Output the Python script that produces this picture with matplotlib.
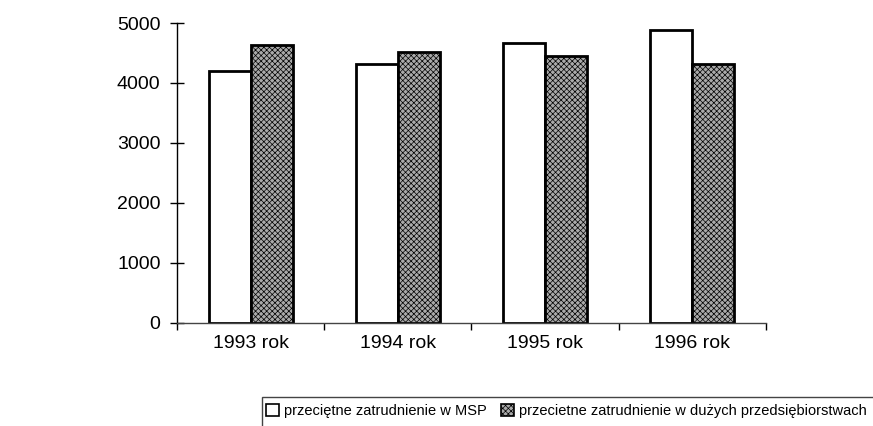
import numpy as np
import matplotlib.pyplot as plt
from matplotlib.patches import Patch, Rectangle

plt.rcParams['font.family'] = ['Liberation Sans', 'DejaVu Sans']
plt.rcParams['hatch.linewidth'] = 0.5
plt.rcParams['hatch.color'] = '#333333'

# data
years = ['1993 rok', '1994 rok', '1995 rok', '1996 rok']
msp = [4200, 4320, 4670, 4880]
duze = [4640, 4520, 4450, 4320]
yticks = [0, 1000, 2000, 3000, 4000, 5000]
labels = ['przeciętne zatrudnienie w MSP',
          'przecietne zatrudnienie w dużych przedsiębiorstwach']

fig = plt.figure(figsize=(8.73, 4.26), dpi=100)
ax = fig.add_axes([0.203, 0.242, 0.674, 0.704])

x = np.arange(len(years)) + 0.5
w = 0.285
ax.bar(x - w / 2, msp, w, color='white', edgecolor='black', linewidth=2)
ax.bar(x + w / 2, duze, w, color='#aaaaaa', edgecolor='black', linewidth=2,
       hatch='xxxxxx')

ax.set_xlim(0, 4)
ax.set_ylim(0, 5000)
ax.set_yticks(yticks)
ax.set_xticks([0, 1, 2, 3, 4])
ax.set_xticklabels([])
ax.set_xticks(x, minor=True)
ax.set_xticklabels(years, minor=True)
ax.tick_params(axis='x', which='minor', length=0, labelsize=14, pad=9)
ax.tick_params(axis='x', which='major', direction='out', length=5, width=1)
ax.tick_params(axis='y', direction='inout', length=10, width=1, labelsize=14, pad=7)
for s in ['top', 'right']:
    ax.spines[s].set_visible(False)
ax.spines['left'].set_linewidth(1)
ax.spines['bottom'].set_linewidth(1)
ax.spines['bottom'].set_color('#444444')

# legend at the bottom, its frame runs past the figure edge
handles = [Patch(facecolor='white', edgecolor='black', linewidth=1.2),
           Patch(facecolor='#aaaaaa', edgecolor='black', linewidth=1.2, hatch='xxxxxx')]
fig.legend(handles, labels, loc='center left', bbox_to_anchor=(0.305, 0.036),
           ncol=2, frameon=False, fontsize=10.5, handlelength=0.9, handleheight=0.9,
           handletextpad=0.3, columnspacing=1.0, borderaxespad=0, borderpad=0)
fig.add_artist(Rectangle((0.300, -0.05), 0.75, 0.118, transform=fig.transFigure,
                         facecolor='none', edgecolor='#444444', linewidth=1, clip_on=False))

fig.savefig('out.png', dpi=100)
